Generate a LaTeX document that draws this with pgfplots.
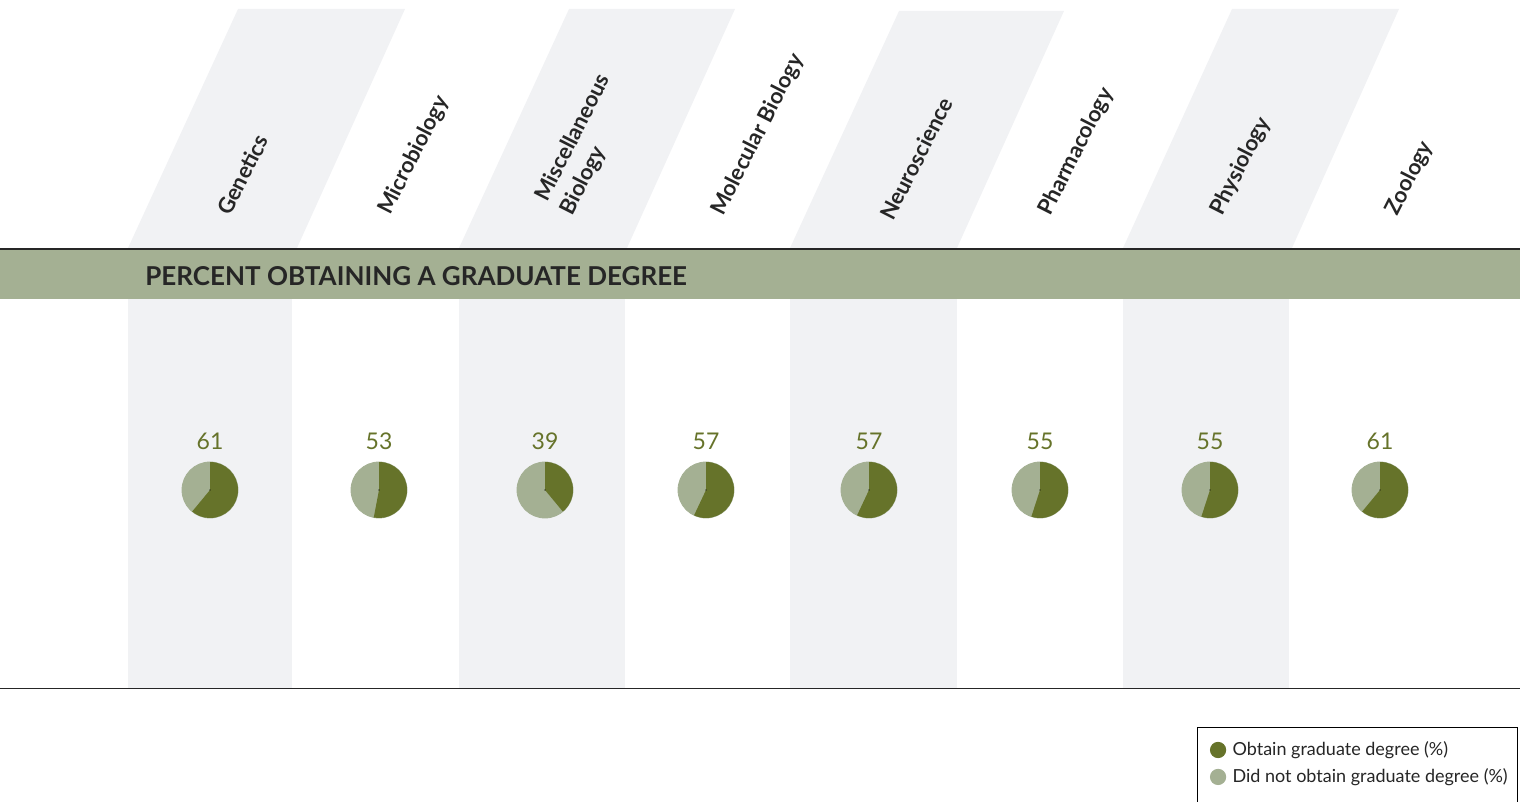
\documentclass[border=0pt]{standalone}
\usepackage{pgfplots}
\pgfplotsset{compat=1.18}
\usepackage{fontspec}
\setmainfont{Lato}
\definecolor{darkg}{HTML}{66732A}
\definecolor{lightg}{HTML}{A4B093}
\definecolor{bggray}{HTML}{F1F2F4}
\definecolor{titlek}{HTML}{262626}
\pgfplotstableread{
x y v
210 312 61
379 312 53
545 312 39
706 312 57
869 312 57
1040 312 55
1210 312 55
1380 312 61
}\piedata
\begin{document}
\begin{tikzpicture}
\useasboundingbox (0,0) rectangle (765pt,401pt);
\begin{axis}[
  at={(0,0)}, anchor=south west,
  scale only axis, width=765pt, height=401pt,
  xmin=0, xmax=1530, ymin=0, ymax=802,
  hide axis, clip=false,
  legend style={at={(axis description cs:0.7824,0.0935)}, anchor=north west,
    draw=black, line width=0.5pt, font=\fontsize{9}{11}\selectfont,
    inner xsep=3pt, inner ysep=5pt, row sep=1pt, text=black!85},
  legend cell align=left,
]
% header parallelograms
\addplot[draw=none, fill=bggray, forget plot] coordinates {(128,554) (297,554) (405,793) (238,793)} -- cycle;
\addplot[draw=none, fill=bggray, forget plot] coordinates {(459,554) (627,554) (735,793) (569,793)} -- cycle;
\addplot[draw=none, fill=bggray, forget plot] coordinates {(790,554) (957,554) (1064,791) (899,791)} -- cycle;
\addplot[draw=none, fill=bggray, forget plot] coordinates {(1123,554) (1292,554) (1399,793) (1232,793)} -- cycle;
% column shading
\addplot[draw=none, fill=bggray, forget plot] coordinates {(128,114) (292,114) (292,503) (128,503)} -- cycle;
\addplot[draw=none, fill=bggray, forget plot] coordinates {(459,114) (625,114) (625,503) (459,503)} -- cycle;
\addplot[draw=none, fill=bggray, forget plot] coordinates {(790,114) (957,114) (957,503) (790,503)} -- cycle;
\addplot[draw=none, fill=bggray, forget plot] coordinates {(1123,114) (1289,114) (1289,503) (1123,503)} -- cycle;
% band
\addplot[draw=none, fill=lightg, forget plot] coordinates {(0,503) (1520,503) (1520,552) (0,552)} -- cycle;
\addplot[titlek, line width=1.1pt, forget plot] coordinates {(0,553) (1520,553)};
\addplot[black!85, line width=0.5pt, forget plot] coordinates {(0,113) (1520,113)};
% pies
\addplot[scatter, only marks, forget plot,
  mark=*, mark size=14pt, mark options={draw=lightg, fill=lightg},
  point meta=explicit symbolic,
  scatter/@pre marker code/.code={\pgfsetfillcolor{lightg}\pgfsetstrokecolor{lightg}},
  scatter/@post marker code/.code={%
    \pgfmathsetmacro\endang{90-3.6*\pgfplotspointmeta}%
    \pgfpathmoveto{\pgfpointorigin}%
    \pgfpathlineto{\pgfpoint{0pt}{14pt}}%
    \pgfpatharc{90}{\endang}{14pt}%
    \pgfpathclose
    \pgfsetfillcolor{darkg}%
    \pgfusepath{fill}},
] table[x=x, y=y, meta=v] {\piedata};
% value labels
\addplot[only marks, forget plot, mark=*, mark size=0.01pt, mark options={draw=none, fill=none},
  point meta=explicit symbolic,
  nodes near coords={\pgfplotspointmeta},
  every node near coord/.append style={anchor=center, yshift=24.5pt,
     text=darkg, font=\fontsize{11.5}{13}\selectfont},
] table[x=x, y=y, meta=v] {\piedata};
\addlegendimage{legend image code/.code={\path (-7pt,0) (5pt,0); \fill[darkg] (0,0) circle (3.8pt);}}
\addlegendentry{Obtain graduate degree (\%)}
\addlegendimage{legend image code/.code={\path (-7pt,0) (5pt,0); \fill[lightg] (0,0) circle (3.8pt);}}
\addlegendentry{Did not obtain graduate degree (\%)}
\addlegendimage{empty legend}
\addlegendentry{}
% title
\node[anchor=west, inner sep=0pt, text=titlek, font=\bfseries\fontsize{13}{15}\selectfont] at (axis cs:145,526) {PERCENT OBTAINING A GRADUATE DEGREE};
% category labels
\tikzset{catlab/.style={rotate=63, anchor=base west, text=titlek, font=\bfseries\fontsize{11}{13}\selectfont, inner sep=0pt}}
\node[catlab] at (axis cs:230,585) {Genetics};
\node[catlab] at (axis cs:390,586) {Microbiology};
\node[catlab] at (axis cs:547,599) {Miscellaneous};
\node[catlab] at (axis cs:572,585) {Biology};
\node[catlab] at (axis cs:723,585) {Molecular Biology};
\node[catlab] at (axis cs:893,580) {Neuroscience};
\node[catlab] at (axis cs:1050,585) {Pharmacology};
\node[catlab] at (axis cs:1222,585) {Physiology};
\node[catlab] at (axis cs:1397,585) {Zoology};
\end{axis}
\end{tikzpicture}
\end{document}
